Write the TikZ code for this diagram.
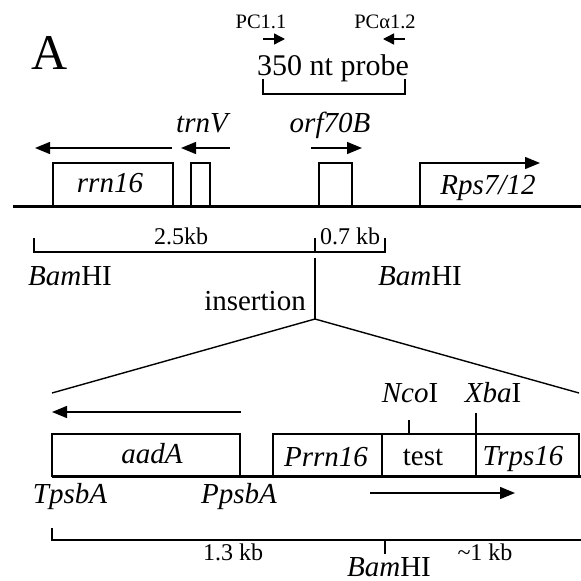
\documentclass[tikz,border=0pt]{standalone}
\usepackage{fontspec}
\setmainfont{Liberation Serif}
\usetikzlibrary{arrows.meta}
\begin{document}
\begin{tikzpicture}[x=1pt,y=-1pt,
  thinline/.style={line width=1.4pt},
  mainline/.style={line width=3pt},
  arr/.style={line width=1.4pt,-{Triangle[length=15pt,width=12pt]}},
  sarr/.style={line width=1.4pt,-{Triangle[length=11pt,width=11pt]}},
  lab/.style={anchor=base,inner sep=0pt,font=\fontsize{29}{30}\selectfont},
  smalllab/.style={anchor=base,inner sep=0pt,font=\fontsize{24}{26}\selectfont},
  tinylab/.style={anchor=base,inner sep=0pt,font=\fontsize{20.5}{22}\selectfont},
  genebox/.style={draw,line width=1.4pt}]
\useasboundingbox[fill=white] (0,0) rectangle (581,581);

% panel letter
\node[anchor=base,inner sep=0pt,font=\fontsize{50}{52}\selectfont] (panel) at (50,69) {A};

% primers and probe
\node[tinylab] (pc11) at (261,28) {PC1.1};
\node[tinylab] (pca12) at (385,28) {PCα1.2};
\coordinate (p1s) at (263,39); \coordinate (p1e) at (285,39);
\coordinate (p2s) at (405,39); \coordinate (p2e) at (383,39);
\draw[sarr] (p1s) -- (p1e);
\draw[sarr] (p2s) -- (p2e);
\node[anchor=base,inner sep=0pt,font=\fontsize{30}{32}\selectfont] (probe) at (333,75) {350 nt probe};
\coordinate (brL) at (263,79); \coordinate (brR) at (405,79);
\draw[thinline] (brL) |- (405,94) -- (brR);

% gene labels and direction arrows
\node[lab] (trnV) at (202,132) {\itshape trnV};
\node[lab] (orf) at (330,132) {\itshape orf70B};
\coordinate (a1s) at (172,148); \coordinate (a1e) at (35,148);
\coordinate (a2s) at (230,148); \coordinate (a2e) at (181,148);
\coordinate (a3s) at (311,148); \coordinate (a3e) at (362,148);
\draw[arr] (a1s) -- (a1e);
\draw[arr] (a2s) -- (a2e);
\draw[arr] (a3s) -- (a3e);

% gene boxes
\draw[genebox] (53,163) rectangle (173,206);
\draw[genebox] (191,163) rectangle (210,206);
\draw[genebox] (319,163) rectangle (352,206);
\node[lab] (rrn) at (110,192) {\itshape rrn16};
\coordinate (rpsB) at (420,206); \coordinate (rpsE) at (540,163);
\draw[arr] (rpsB) |- (rpsE);
\node[lab] (rps) at (488,194) {\itshape Rps7/12};

% main line
\coordinate (mL) at (13,206); \coordinate (mR) at (581,206);
\draw[mainline] (mL) -- (mR);

% scale bar
\draw[thinline] (34,238) -- (34,252) -- (385,252) -- (385,238);
\draw[thinline] (315,238) -- (315,252);
\node[smalllab] (kb25) at (181,244) {2.5kb};
\node[smalllab] (kb07) at (350,244) {0.7 kb};
\node[lab] (bamL) at (70,285) {\textit{Bam}HI};
\node[lab] (bamR) at (420,285) {\textit{Bam}HI};

% insertion
\coordinate (insT) at (315,258); \coordinate (insB) at (315,319);
\coordinate (zL) at (52,393); \coordinate (zR) at (579,393);
\draw[thinline] (insT) -- (insB);
\draw[thinline] (zL) -- (insB) -- (zR);
\node[lab] (ins) at (255,310) {insertion};

% restriction sites
\node[lab] (nco) at (410,402) {\textit{Nco}I};
\node[lab] (xba) at (493,402) {\textit{Xba}I};
\draw[thinline] (409,420) -- (409,434);
\draw[thinline] (476,413) -- (476,434);

% aadA arrow
\coordinate (aas) at (241,412); \coordinate (aae) at (52,412);
\draw[arr] (aas) -- (aae);

% cassette boxes
\draw[genebox] (52,434) rectangle (240,476);
\draw[genebox] (273,434) rectangle (382,476);
\draw[genebox] (382,434) rectangle (476,476);
\draw[genebox] (476,434) rectangle (579,476);
\node[lab] (aadA) at (152,463) {\itshape aadA};
\node[lab] (prrn) at (326,466) {\itshape Prrn16};
\node[lab] (test) at (423,465) {test};
\node[lab] (trps) at (523,465) {\itshape Trps16};

% lower line
\coordinate (lL) at (52,476); \coordinate (lR) at (581,476);
\draw[mainline] (lL) -- (lR);
\node[lab] (tpsbA) at (70,503) {\itshape TpsbA};
\node[lab] (ppsbA) at (239,503) {\itshape PpsbA};
\coordinate (tas) at (370,493); \coordinate (tae) at (515,493);
\draw[arr] (tas) -- (tae);

% bottom scale
\draw[thinline] (52,528) -- (52,540) -- (581,540);
\draw[thinline] (385,540) -- (385,554);
\node[smalllab] (kb13) at (233,560) {1.3 kb};
\node[lab] (bamB) at (389,576) {\textit{Bam}HI};
\node[smalllab] (kb1) at (485,560) {\textasciitilde 1 kb};
\end{tikzpicture}
\end{document}
